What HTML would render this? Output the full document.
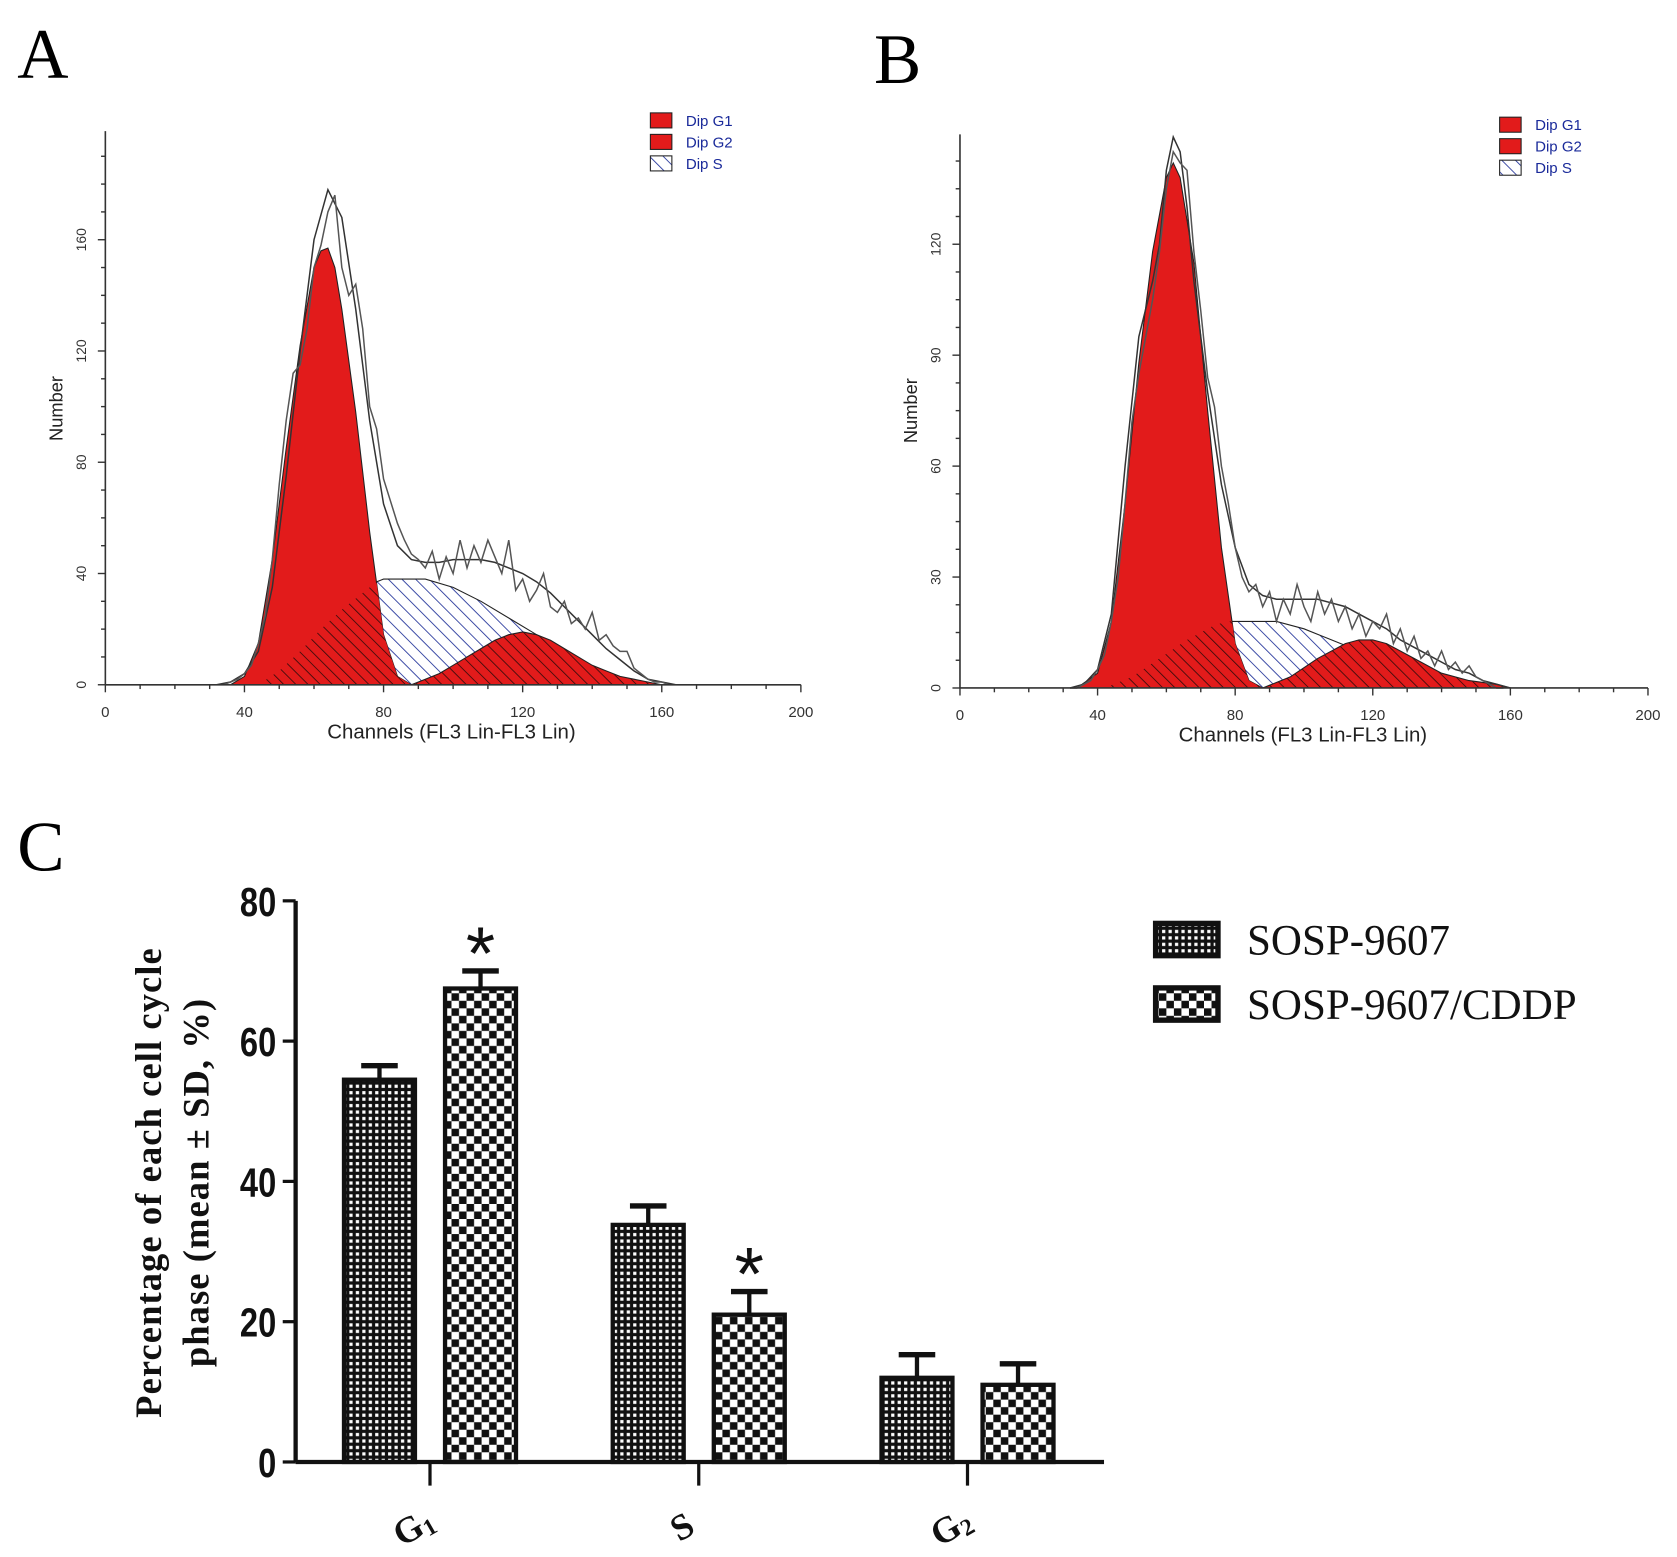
<!DOCTYPE html>
<html><head><meta charset="utf-8"><style>
html,body{margin:0;padding:0;background:#fff;}
svg{display:block;}
</style></head><body>
<svg id="fig" width="1677" height="1557" viewBox="0 0 1560 1448.4" preserveAspectRatio="none" xmlns="http://www.w3.org/2000/svg">
<defs>
<pattern id="blueHatch" patternUnits="userSpaceOnUse" width="9" height="9" patternTransform="rotate(-45)"><rect width="9" height="9" fill="#fff"/><line x1="0" y1="0" x2="0" y2="9" stroke="#22339a" stroke-width="1.6"/></pattern>
<pattern id="redHatch" patternUnits="userSpaceOnUse" width="8" height="8" patternTransform="rotate(-45)"><rect width="8" height="8" fill="#e21b1b"/><line x1="0" y1="0" x2="0" y2="8" stroke="#3a0c0c" stroke-width="1.6"/></pattern>
<pattern id="dots" patternUnits="userSpaceOnUse" width="6" height="6"><rect width="6" height="6" fill="#111"/><rect x="1" y="1" width="3" height="3" fill="#fff"/></pattern>
<pattern id="checks" patternUnits="userSpaceOnUse" width="14" height="14"><rect width="14" height="14" fill="#fff"/><rect width="7" height="7" fill="#111"/><rect x="7" y="7" width="7" height="7" fill="#111"/></pattern>
</defs>
<text x="16" y="72" font-family="Liberation Serif, serif" font-size="66">A</text>
<text x="813" y="77" font-family="Liberation Serif, serif" font-size="66">B</text>
<text x="16" y="810" font-family="Liberation Serif, serif" font-size="66">C</text>
<g id="panelA"></g>
<g id="panelB"></g>
<g id="panelC"></g>
</svg>
<script>
// ---- Panel A data ----
const chA = [32,36,40,44,48,52,56,60,64,68,72,76,80,84,88,92,96,100,104,108,112,116,120,124,128,132,136,140,144,148,152,156,160,164,168];
const fitA = [0,1,4,12,35,75,120,160,178,168,135,95,65,50,45,44,44,45,45,45,44,42,40,37,33,28,23,18,13,9,5,2,1,0,0];
const rawChA = [32,34,36,38,40,42,44,46,48,50,52,54,56,58,60,62,64,66,68,70,72,74,76,78,80,82,84,86,88,90,92,94,96,98,100,102,104,106,108,110,112,114,116,118,120,122,124,126,128,130,132,134,136,138,140,142,144,146,148,150,152,154,156,158,160,162];
const rawA = [0,0,1,2,4,7,15,25,45,72,95,112,115,128,150,158,170,176,150,140,144,128,100,92,74,66,58,52,47,45,42,48,38,46,40,52,42,50,44,52,46,40,52,34,38,30,34,40,28,26,30,22,24,20,26,16,18,14,12,12,6,4,2,1,1,0];
const g1ChA = [36,40,44,48,52,56,60,62,64,66,68,72,76,80,84,88];
const g1A = [0,3,15,45,85,122,150,156,157,150,135,98,55,18,3,0];
const sChA = [44,50,56,62,68,74,78,80,92,100,108,116,124,132,140,148,154];
const sA = [0,5,12,20,27,33,37,38,38,35,30,24,18,12,6,2,0];
const g2ChA = [88,92,96,100,104,108,112,116,120,124,128,132,136,140,144,148,152,156,160];
const g2A = [0,2,4,7,10,13,16,18,19,18,16,13,10,7,5,3,2,1,0];
const yTicksA = [0,40,80,120,160];
// ---- Panel B data ----
const chB = [32,36,40,44,48,52,56,58,60,62,64,66,68,72,76,80,84,88,92,96,100,104,108,112,116,120,124,128,132,136,140,144,148,152,156,160];
const fitB = [0,1,5,20,60,95,110,120,140,149,145,130,110,80,55,38,28,25,24,24,24,24,23,22,20,18,16,13,11,9,7,5,4,2,1,0];
const rawChB = [32,34,36,38,40,42,44,46,48,50,52,54,56,58,60,62,64,66,68,70,72,74,76,78,80,82,84,86,88,90,92,94,96,98,100,102,104,106,108,110,112,114,116,118,120,122,124,126,128,130,132,134,136,138,140,142,144,146,148,150,152,154,156,158];
const rawB = [0,0,1,2,5,9,18,30,50,72,85,95,105,118,135,145,142,140,118,102,84,76,60,50,38,30,26,28,22,26,18,24,20,28,22,18,26,20,24,18,22,16,20,14,18,16,20,12,16,10,14,8,10,6,10,5,7,4,6,3,2,1,0,0];
const g1ChB = [34,40,44,48,52,56,60,62,64,68,72,76,80,84,88];
const g1B = [0,4,18,50,88,118,138,142,138,115,75,38,12,2,0];
const sChB = [42,50,58,66,74,78,92,100,108,116,124,132,140,148,156];
const sB = [0,3,8,13,17,18,18,16,13,10,7,4,2,1,0];
const g2ChB = [88,96,104,112,116,120,124,128,132,140,148,156,160];
const g2B = [0,3,8,12,13,13,12,10,8,4,2,1,0];
const yTicksB = [0,30,60,90,120];
// ---- Panel C data ----
const phases = ["G1","S","G2"];
const sospMean = [54.5,33.8,12.0];
const sospSD = [2.0,2.7,3.3];
const cddpMean = [67.5,21.0,11.0];
const cddpSD = [2.5,3.3,3.0];
const starred = [true,true,false];
const yTicksC = [0,20,40,60,80];

const NS="http://www.w3.org/2000/svg";
function mk(tag, attrs, parent){const e=document.createElementNS(NS,tag);for(const k in attrs)e.setAttribute(k,attrs[k]);if(parent)parent.appendChild(e);return e;}

function drawHist(g, cfg){
  const sx=c=>cfg.x0+(c/200)*(cfg.x200-cfg.x0);
  const sy=v=>cfg.y0-v*cfg.ky;
  const area=(ch,vals)=>{let d=`M${sx(ch[0])},${sy(0)}`;ch.forEach((c,i)=>d+=`L${sx(c)},${sy(vals[i])}`);d+=`L${sx(ch[ch.length-1])},${sy(0)}Z`;return d;};
  const line=(ch,vals)=>{let d='';ch.forEach((c,i)=>d+=(i?'L':'M')+sx(c)+','+sy(vals[i]));return d;};
  const cid='clip'+cfg.id;
  const cp=mk('clipPath',{id:cid},g); mk('path',{d:area(cfg.g1Ch,cfg.g1)},cp);
  let e;
  e=mk('path',{d:area(cfg.sCh,cfg.s),fill:'url(#blueHatch)',stroke:'#222','stroke-width':1},g);
  
  e=mk('path',{d:area(cfg.g1Ch,cfg.g1),fill:'#e21b1b',stroke:'#222','stroke-width':1},g);
  
  e=mk('path',{d:area(cfg.sCh,cfg.s),fill:'url(#redHatch)','clip-path':`url(#${cid})`},g);
  
  e=mk('path',{d:area(cfg.g2Ch,cfg.g2),fill:'url(#redHatch)',stroke:'#222','stroke-width':1},g);
  
  e=mk('path',{d:line(cfg.fitCh,cfg.fit),fill:'none',stroke:'#333','stroke-width':1.4},g);
  
  e=mk('path',{d:line(cfg.rawCh,cfg.raw),fill:'none',stroke:'#555','stroke-width':1.4},g);
  
  mk('line',{x1:cfg.x0,y1:cfg.ytop,x2:cfg.x0,y2:cfg.y0,stroke:'#333','stroke-width':1.5},g);
  mk('line',{x1:cfg.x0,y1:cfg.y0,x2:cfg.x200,y2:cfg.y0,stroke:'#333','stroke-width':1.5},g);
  for(let c=0;c<=200;c+=10){mk('line',{x1:sx(c),y1:cfg.y0,x2:sx(c),y2:cfg.y0+(c%40?4:7),stroke:'#333','stroke-width':1.3},g);}
  [0,40,80,120,160,200].forEach(c=>{const t=mk('text',{x:sx(c),y:cfg.y0+30,'text-anchor':'middle','font-family':'Liberation Sans, sans-serif','font-size':14,fill:'#333'},g);t.textContent=c;});
  const step=cfg.yt[1]-cfg.yt[0];
  for(let v=0; sy(v)>=cfg.ytop; v+=step/4){mk('line',{x1:cfg.x0,y1:sy(v),x2:cfg.x0-(v%step?4:7),y2:sy(v),stroke:'#333','stroke-width':1.3},g);}
  cfg.yt.forEach(v=>{const t=mk('text',{x:cfg.x0-18,y:sy(v),'text-anchor':'middle','font-family':'Liberation Sans, sans-serif','font-size':13,fill:'#333',transform:`rotate(-90 ${cfg.x0-18} ${sy(v)})`},g);t.textContent=v;});
  let t=mk('text',{x:cfg.x0-40,y:cfg.ny,'text-anchor':'middle','font-family':'Liberation Sans, sans-serif','font-size':17,fill:'#222',transform:`rotate(-90 ${cfg.x0-40} ${cfg.ny})`},g);t.textContent='Number';
  
  t=mk('text',{x:cfg.xl,y:cfg.y0+50,'text-anchor':'middle','font-family':'Liberation Sans, sans-serif','font-size':19,fill:'#222'},g);t.textContent='Channels (FL3 Lin-FL3 Lin)';
  
  const L=[['Dip G1','#e21b1b'],['Dip G2','#e21b1b'],['Dip S','url(#blueHatch)']];
  L.forEach((l,i)=>{const y=cfg.ly+i*20;
    const r=mk('rect',{x:cfg.lx,y:y,width:20,height:14,fill:l[1],stroke:'#222','stroke-width':1},g);
    
    const tt=mk('text',{x:cfg.lx+33,y:y+12,'font-family':'Liberation Sans, sans-serif','font-size':14,fill:'#1a2a9a'},g);tt.textContent=l[0];
    });
}
drawHist(document.getElementById('panelA'),{id:'A',x0:98,x200:745,y0:637,ky:2.5875,ytop:122,fitCh:chA,fit:fitA,rawCh:rawChA,raw:rawA,g1Ch:g1ChA,g1:g1A,sCh:sChA,s:sA,g2Ch:g2ChA,g2:g2A,yt:yTicksA,ny:380,xl:420,lx:605,ly:105});
drawHist(document.getElementById('panelB'),{id:'B',x0:893,x200:1533,y0:640,ky:3.44,ytop:125,fitCh:chB,fit:fitB,rawCh:rawChB,raw:rawB,g1Ch:g1ChB,g1:g1B,sCh:sChB,s:sB,g2Ch:g2ChB,g2:g2B,yt:yTicksB,ny:382,xl:1212,lx:1395,ly:109});

(function(){
  const g=document.getElementById('panelC');
  const x0=275,y0=1360,ky=(1360-838)/80;
  const sy=v=>y0-v*ky;
  const cx=i=>400+i*250;
  const bw=66;
  mk('line',{x1:x0,y1:838,x2:x0,y2:y0,stroke:'#111','stroke-width':4},g);
  mk('line',{x1:x0,y1:y0,x2:1027,y2:y0,stroke:'#111','stroke-width':4},g);
  yTicksC.forEach(v=>{mk('line',{x1:x0-12,y1:sy(v),x2:x0,y2:sy(v),stroke:'#111','stroke-width':3},g);
    const t=mk('text',{x:x0-18,y:sy(v)+14,'text-anchor':'end','font-family':'Liberation Sans, sans-serif','font-weight':'bold','font-size':38,fill:'#111',transform:`scale(0.8,1) translate(${(x0-18)*0.25},0)`},g);t.textContent=v;
    });
  phases.forEach((p,i)=>{
    mk('line',{x1:cx(i),y1:y0,x2:cx(i),y2:y0+22,stroke:'#111','stroke-width':3},g);
    const t=mk('text',{x:cx(i)-10,y:y0+70,'text-anchor':'middle','font-family':'Liberation Serif, serif','font-weight':'bold','font-size':34,fill:'#111',transform:`rotate(-30 ${cx(i)-10} ${y0+70})`},g);
    t.innerHTML=p[0]+(p.length>1?`<tspan font-size="22" dy="4">${p.slice(1)}</tspan>`:'');
    
    [[sospMean,sospSD,'url(#dots)',-47,'bar-sosp-9607'],[cddpMean,cddpSD,'url(#checks)',47,'bar-sosp-9607-cddp']].forEach(s=>{
      const m=s[0][i],sd=s[1][i],bx=cx(i)+s[3]-bw/2;
      mk('line',{x1:cx(i)+s[3],y1:sy(m),x2:cx(i)+s[3],y2:sy(m+sd),stroke:'#111','stroke-width':4},g);
      mk('line',{x1:cx(i)+s[3]-17,y1:sy(m+sd),x2:cx(i)+s[3]+17,y2:sy(m+sd),stroke:'#111','stroke-width':5},g);
      const r=mk('rect',{x:bx,y:sy(m),width:bw,height:y0-sy(m),fill:s[2],stroke:'#111','stroke-width':4},g);
      
    });
    if(starred[i]){const yy=sy(cddpMean[i]+cddpSD[i])-12;
      const st=mk('text',{x:cx(i)+47,y:yy+20,'text-anchor':'middle','font-family':'Liberation Sans, sans-serif','font-size':70,fill:'#111'},g);st.textContent='*';
      }
  });
  let t=mk('text',{x:150,y:1100,'text-anchor':'middle','font-family':'Liberation Serif, serif','font-weight':'bold','font-size':34,fill:'#111',transform:'rotate(-90 150 1100)','letter-spacing':'1'},g);t.textContent='Percentage of each cell cycle';
  
  t=mk('text',{x:194,y:1100,'text-anchor':'middle','font-family':'Liberation Serif, serif','font-weight':'bold','font-size':34,fill:'#111',transform:'rotate(-90 194 1100)','letter-spacing':'1'},g);t.textContent='phase (mean ± SD, %)';
  
  [['SOSP-9607','url(#dots)',874],['SOSP-9607/CDDP','url(#checks)',934]].forEach(l=>{
    const r=mk('rect',{x:1075,y:l[2]-15,width:58,height:30,fill:l[1],stroke:'#111','stroke-width':5},g);
    
    const tt=mk('text',{x:1160,y:l[2]+14,'font-family':'Liberation Serif, serif','font-size':40,fill:'#111'},g);tt.textContent=l[0];
    });
})();
</script>
</body></html>
